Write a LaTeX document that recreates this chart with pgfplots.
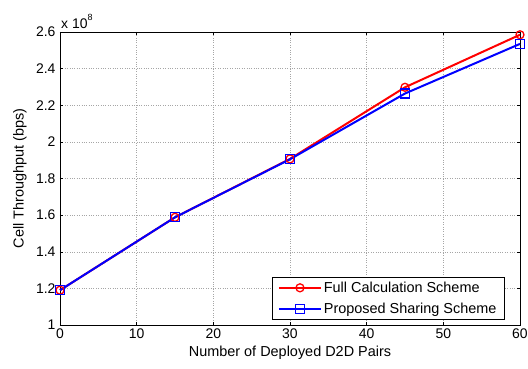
\documentclass[border=0pt]{standalone}
\usepackage{pgfplots}
\pgfplotsset{compat=1.18}
\usepackage{fontspec}
\setmainfont{Liberation Sans}
\begin{document}
\begin{tikzpicture}
\useasboundingbox (-60bp,-44bp) rectangle (468bp,325bp);
\begin{axis}[
  scale only axis,
  width=460bp, height=293bp,
  xmin=0, xmax=60, ymin=1, ymax=2.6,
  xtick={0,10,...,60},
  ytick={1,1.2,1.4,1.6,1.8,2,2.2,2.4,2.6},
  scaled y ticks=false,
  clip=false,
  tick align=inside,
  major tick length=3bp,
  tick style={black, line width=0.5pt},
  axis line style={black, line width=0.8pt},
  grid=major,
  grid style={gray!70, dotted, line width=0.5pt},
  /pgf/number format/assume math mode=true,
  ticklabel style={font=\fontsize{14}{16}\selectfont},
  yticklabel style={xshift=-1bp},
  xticklabel style={yshift=0bp},
  xlabel={Number of Deployed D2D Pairs},
  ylabel={Cell Throughput (bps)},
  label style={font=\fontsize{14.5}{17}\selectfont},
  xlabel style={at={(axis description cs:0.5,0)}, anchor=center, yshift=-28bp},
  ylabel style={at={(axis description cs:0,0.5)}, anchor=center, yshift=40bp},
  legend style={at={(rel axis cs:0.967,0.017)}, anchor=south east,
    font=\fontsize{14.5}{17}\selectfont, draw=black, line width=0.6pt,
    inner xsep=6bp, inner ysep=3bp, row sep=5pt},
  legend cell align=left,
  legend image code/.code={\draw[mark repeat=2,mark phase=2,#1] plot coordinates {(0bp,0bp) (21bp,0bp) (42bp,0bp)};},
  legend image post style={line width=1.8pt},
]
\addplot[red, line width=2bp, mark=o, mark size=4bp, mark options={solid, line width=1.3pt}]
  coordinates {(0,1.19) (15,1.588) (30,1.907) (45,2.298) (60,2.585)};
\addlegendentry{Full Calculation Scheme}
\addplot[blue, line width=2bp, mark=square, mark size=4.5bp, mark options={solid, line width=1.3pt}]
  coordinates {(0,1.19) (15,1.588) (30,1.905) (45,2.264) (60,2.535)};
\addlegendentry{Proposed Sharing Scheme}
\node[anchor=south west, font=\fontsize{14}{16}\selectfont, inner sep=1pt, yshift=2bp] at (rel axis cs:0,1) {x 10\raisebox{1.1ex}{\fontsize{9}{10}\selectfont 8}};
\end{axis}
\end{tikzpicture}
\end{document}
